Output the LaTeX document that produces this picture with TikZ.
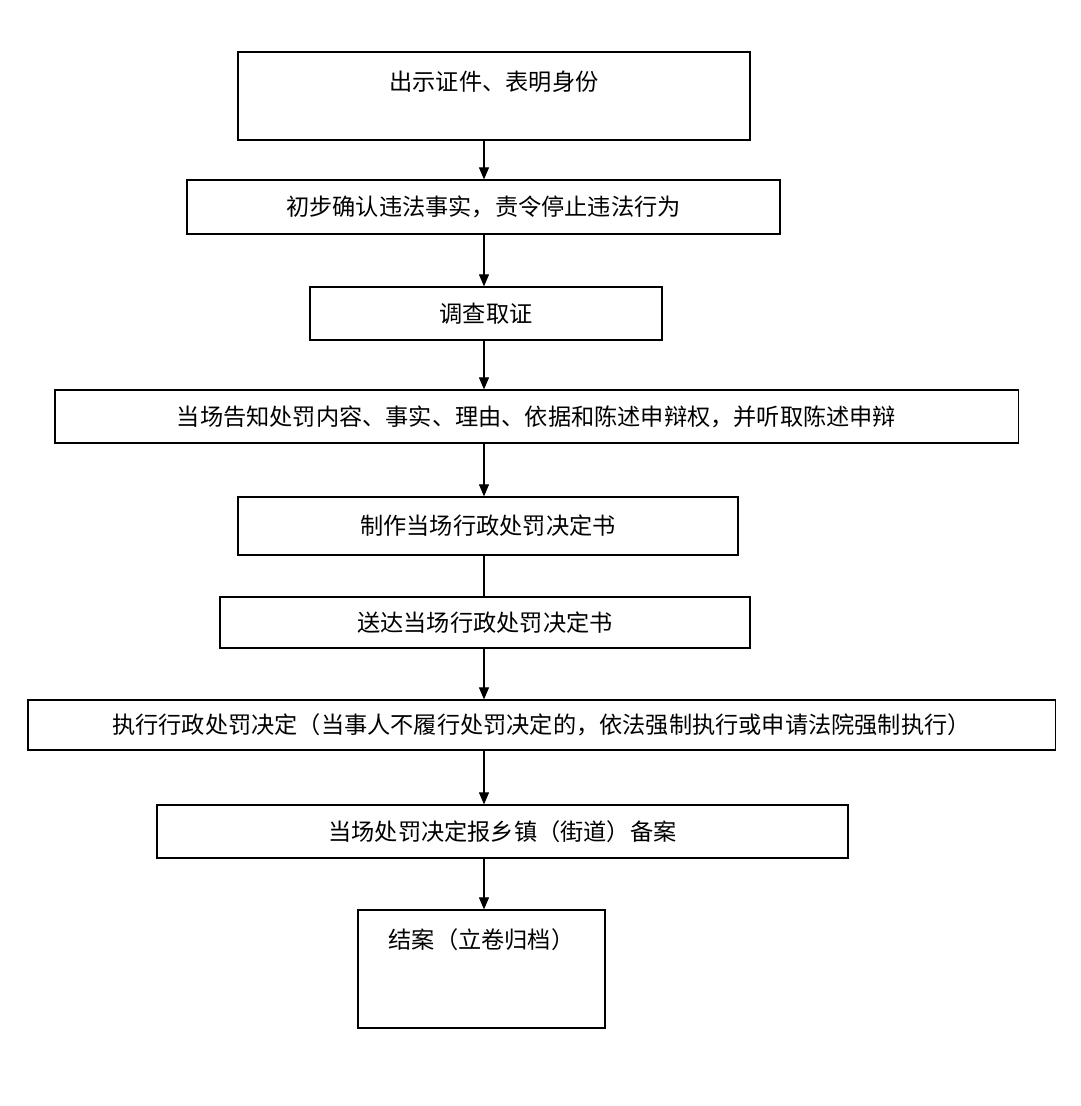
\documentclass[tikz,border=0pt]{standalone}
\usepackage{fontspec}
\newfontfamily\cjkfont{Noto Sans CJK SC}
\usetikzlibrary{arrows.meta}

\begin{document}
\begin{tikzpicture}[x=0.025cm,y=-0.025cm,line width=0.8pt,
    every node/.style={font=\cjkfont\fontsize{16.5}{20}\selectfont},
    stepbox/.style={draw,line width=0.9pt,inner sep=0pt,align=center},
    toplabel/.style={anchor=center,yshift=-0.75cm}]
  \useasboundingbox (0,0) rectangle (1080,1106);
  \node[stepbox,minimum width=12.8cm,minimum height=2.2cm,label={[toplabel]north:{出示证件、表明身份}}] (show) at (494,96) {};
  \node[stepbox,minimum width=14.825cm,minimum height=1.35cm] (confirm) at (483.5,207) {初步确认违法事实，责令停止违法行为};
  \node[stepbox,minimum width=8.8cm,minimum height=1.325cm] (probe) at (486,313.5) {调查取证};
  \node[stepbox,minimum width=24.075cm,minimum height=1.325cm] (inform) at (536.5,416.5) {当场告知处罚内容、事实、理由、依据和陈述申辩权，并听取陈述申辩};
  \node[stepbox,minimum width=12.5cm,minimum height=1.45cm] (make) at (488,526) {制作当场行政处罚决定书};
  \node[stepbox,minimum width=13.25cm,minimum height=1.275cm] (serve) at (485,622.5) {送达当场行政处罚决定书};
  \node[stepbox,minimum width=25.675cm,minimum height=1.25cm] (exec) at (541.5,725) {执行行政处罚决定（当事人不履行处罚决定的，依法强制执行或申请法院强制执行）};
  \node[stepbox,minimum width=17.275cm,minimum height=1.325cm] (file) at (502.5,831.5) {当场处罚决定报乡镇（街道）备案};
  \node[stepbox,minimum width=6.175cm,minimum height=2.95cm,label={[toplabel]north:{结案（立卷归档）}}] (close) at (481.5,969) {};
  \coordinate (ax) at (484,0);
  \draw[-{Triangle[length=0.3cm,width=0.25cm]}] (show.south -| ax)--(confirm.north -| ax);
  \draw[-{Triangle[length=0.3cm,width=0.25cm]}] (confirm.south -| ax)--(probe.north -| ax);
  \draw[-{Triangle[length=0.3cm,width=0.25cm]}] (probe.south -| ax)--(inform.north -| ax);
  \draw[-{Triangle[length=0.3cm,width=0.25cm]}] (inform.south -| ax)--(make.north -| ax);
  \draw (make.south -| ax)--(serve.north -| ax);
  \draw[-{Triangle[length=0.3cm,width=0.25cm]}] (serve.south -| ax)--(exec.north -| ax);
  \draw[-{Triangle[length=0.3cm,width=0.25cm]}] (exec.south -| ax)--(file.north -| ax);
  \draw[-{Triangle[length=0.3cm,width=0.25cm]}] (file.south -| ax)--(close.north -| ax);
\end{tikzpicture}
\end{document}
